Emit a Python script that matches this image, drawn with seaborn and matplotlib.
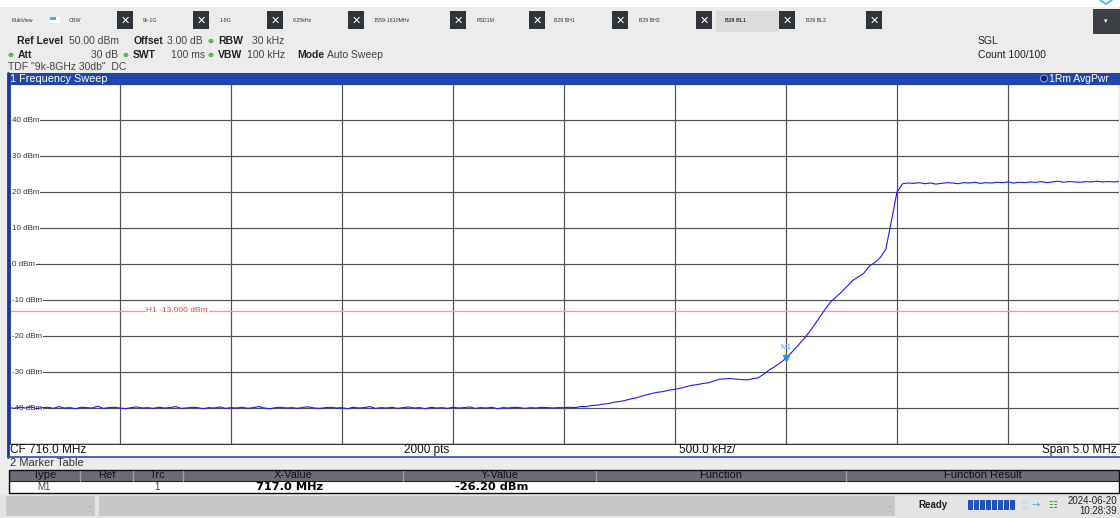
import numpy as np
import pandas as pd
import matplotlib
matplotlib.use("Agg")
import matplotlib.pyplot as plt
from matplotlib.patches import Rectangle, Ellipse
from matplotlib.lines import Line2D
import seaborn as sns

sns.set_theme(style="white")
plt.rcParams["font.family"] = ["Liberation Sans", "DejaVu Sans"]

# ---- sweep settings ----
CENTER_MHZ = 716.0
SPAN_MHZ = 5.0
REF_LEVEL_DBM = 50.0
DB_PER_DIV = 10.0
LIMIT_H1_DBM = -13.0
MARKER_FREQ_MHZ = 717.0
MARKER_LEVEL_DBM = -26.20

# ---- trace 1 (RMS detector, average power), dBm ----
trace_noise_floor = [
    -39.9, -40.1, -39.8, -40.0, -39.7, -40.2, -39.9, -39.8, -40.1, -39.6,
    -40.0, -39.9, -40.2, -39.8, -39.9, -40.0, -39.5, -40.1, -39.9, -39.8,
    -40.0, -40.2, -39.9, -39.7, -40.0, -39.9, -40.1, -39.8, -40.0, -39.9,
    -39.6, -40.1, -40.0, -39.8, -39.9, -40.2, -39.9, -40.0, -39.7, -40.1,
    -39.9, -40.0, -39.8, -40.1, -39.9, -39.6, -40.0, -40.2, -39.9, -39.8,
    -40.0, -39.9, -40.1, -39.8, -39.7, -40.0, -40.1, -39.9, -39.8, -40.0,
    -39.9, -40.2, -39.8, -40.0, -39.9, -39.6, -40.1, -39.9, -40.0, -39.8,
    -40.1, -39.9, -39.7, -40.0, -39.9, -40.2, -39.8, -40.0, -39.9, -40.1,
    -39.8, -40.0, -39.9, -39.7, -40.1, -39.9, -40.0, -39.8, -40.2, -39.9,
    -40.0, -39.8, -39.9, -40.1, -39.9, -40.0, -39.8, -39.9, -40.0, -39.9,
]
trace_band_edge = [
    -39.9, -39.8, -39.9, -39.6, -39.6, -39.3, -39.2, -38.9, -38.8, -38.4,
    -38.2, -37.9, -37.5, -37.2, -36.7, -36.3, -35.9, -35.6, -35.4, -35.0,
    -34.8, -34.5, -34.1, -33.7, -33.5, -33.2, -33.0, -32.5, -32.0, -31.9,
    -31.8, -32.0, -32.1, -32.2, -31.9, -31.6, -30.6, -29.4, -28.5, -27.4,
    -26.2, -24.6, -22.9, -21.2, -19.3, -17.2, -14.9, -12.7, -10.6, -9.2,
    -7.8, -6.2, -4.6, -3.6, -2.6, -0.6, 0.4, 1.8, 4.2, 12.0,
    20.0, 22.3, 22.5,
]
trace_in_band = [
    22.4, 22.6, 22.3, 22.5, 22.2, 22.4, 22.6, 22.5, 22.3, 22.6,
    22.5, 22.7, 22.4, 22.6, 22.5, 22.7, 22.6, 22.8, 22.5, 22.7,
    22.6, 22.8, 22.7, 22.9, 22.6, 22.8, 23.0, 22.7, 22.9, 22.8,
    22.7, 22.9, 22.8, 23.0, 22.8, 22.9, 22.8, 22.9,
]

# ---- y-axis labels, tabs and marker table ----
level_ticks = [40, 30, 20, 10, 0, -10, -20, -30, -40]
table_columns = ["Type", "Ref", "Trc", "X-Value", "Y-Value", "Function", "Function Result"]
tab_names = ["9k-1G", "1-8G", "6.25kHz", "1559-1610MHz", "PSD1M",
             "B29 BH1", "B29 BH2", "B29 BL1", "B29 BL2"]

levels = trace_noise_floor + trace_band_edge + trace_in_band
f_start = CENTER_MHZ - SPAN_MHZ / 2
f_stop = CENTER_MHZ + SPAN_MHZ / 2
sweep = pd.DataFrame({
    "freq": np.linspace(f_start, f_stop, len(levels)),
    "level": levels,
})

W, H = 1120, 518
BG = "#ececec"
fig = plt.figure(figsize=(W / 100, H / 100), dpi=100, facecolor=BG)


def fx(x):
    return x / W


def fy(y):
    return 1 - y / H


def rect(x0, y0, x1, y1, fc, ec="none", lw=0, z=1):
    fig.add_artist(Rectangle((fx(x0), fy(y1)), fx(x1) - fx(x0), fy(y0) - fy(y1),
                             transform=fig.transFigure, facecolor=fc,
                             edgecolor=ec, linewidth=lw, zorder=z))


def hline(x0, x1, y, color, lw=1, z=3):
    fig.add_artist(Line2D([fx(x0), fx(x1)], [fy(y), fy(y)], transform=fig.transFigure,
                          color=color, lw=lw, zorder=z))


def vline(x, y0, y1, color, lw=1, z=3):
    fig.add_artist(Line2D([fx(x), fx(x)], [fy(y0), fy(y1)], transform=fig.transFigure,
                          color=color, lw=lw, zorder=z))


def txt(x, y, s, size=7.5, color="#222222", ha="left", weight="normal", z=5, **kw):
    fig.text(fx(x), fy(y), s, fontsize=size, color=color, ha=ha, va="center",
             fontweight=weight, zorder=z, **kw)


def dot(x, y, color="#5cb85c"):
    fig.add_artist(Ellipse((fx(x), fy(y)), 5 / W, 4.5 / H, transform=fig.transFigure,
                           facecolor=color, edgecolor="none", zorder=5))


# ---- top toolbar ----
rect(0, 0, W, 7, "white")
txt(12, 20, "MultiView", size=3.6, color="#333333")
rect(50, 17, 56, 20, "#4aa8e8")
rect(56, 17, 60, 20, "#ffffff")
rect(50, 20, 60, 23, "#ffffff")
txt(69, 20, "OBW", size=3.8, color="#333333")
x_boxes = [117, 193, 267, 348, 450, 529, 612, 696, 779, 866]
tab_text_x = [143, 220, 293, 374, 477, 554, 639, 725, 806]
rect(716, 11, 779, 32, "#dcdcdc")
for xb in x_boxes:
    rect(xb, 11, xb + 16, 29, "#30353b", z=2)
    txt(xb + 8, 20.5, "\u2715", size=8, color="white", ha="center", weight="bold",
        family=["DejaVu Sans"])
for xt, name in zip(tab_text_x, tab_names):
    txt(xt, 20, name, size=3.8, color="#333333",
        weight="bold" if name == "B29 BL1" else "normal")
rect(1093, 9, W, 34, "#3c4046", z=2)
txt(1106, 21, "\u25BE", size=5, color="white", ha="center", family=["DejaVu Sans"])
fig.add_artist(Line2D([fx(1100), fx(1106), fx(1112)], [fy(0), fy(4), fy(0)],
                      transform=fig.transFigure, color="#40b0e0", lw=1.2, zorder=5))

# ---- instrument settings ----
txt(17, 41, "Ref Level", weight="bold")
txt(69, 41, "50.00 dBm", color="#444444")
txt(134, 41, "Offset", weight="bold")
txt(167, 41, "3.00 dB", color="#444444")
dot(211, 41)
txt(218, 41, "RBW", weight="bold")
txt(252, 41, "30 kHz", color="#444444")
dot(11, 55)
txt(18, 55, "Att", weight="bold")
txt(118, 55, "30 dB", color="#444444", ha="right")
dot(126, 55)
txt(133, 55, "SWT", weight="bold")
txt(171, 55, "100 ms", color="#444444")
dot(211, 55)
txt(218, 55, "VBW", weight="bold")
txt(247, 55, "100 kHz", color="#444444")
txt(297, 55, "Mode", weight="bold")
txt(327, 55, "Auto Sweep", color="#444444")
txt(8, 67, 'TDF "9k-8GHz 30db"  DC', color="#444444")
txt(978, 41, "SGL", color="#222222")
txt(978, 55, "Count 100/100", color="#222222")

# ---- window title bar ----
BLUE = "#2146a9"
rect(8, 73, W, 84.5, BLUE)
txt(10, 78.5, "1 Frequency Sweep", size=7.8, color="white")
fig.add_artist(Ellipse((fx(1044), fy(78.5)), 7 / W, 7 / H, transform=fig.transFigure,
                       facecolor="#101c60", edgecolor="#7f9fff", lw=0.8, zorder=5))
txt(1049, 78.5, "1Rm AvgPwr", size=7.5, color="white")

# ---- sweep diagram ----
ax = fig.add_axes([fx(9), fy(444), (1119 - 9) / W, 360 / H])
ax.set_facecolor("white")
sns.lineplot(data=sweep, x="freq", y="level", ax=ax, color="#1a1aff", lw=0.8,
             estimator=None, sort=False, zorder=4)
ax.set_xlim(f_start, f_stop)
ax.set_ylim(REF_LEVEL_DBM - 10 * DB_PER_DIV, REF_LEVEL_DBM)
ax.set_xticks(np.arange(f_start, f_stop + 1e-6, SPAN_MHZ / 10))
ax.set_yticks(np.arange(REF_LEVEL_DBM - 10 * DB_PER_DIV, REF_LEVEL_DBM + 1e-6, DB_PER_DIV))
ax.grid(True, color="#505050", lw=0.85, zorder=1)
ax.set_axisbelow(True)
ax.tick_params(length=0, labelbottom=False, labelleft=False)
ax.set_xlabel("")
ax.set_ylabel("")
for side in ("top", "right"):
    ax.spines[side].set_visible(False)
ax.spines["left"].set_color("#1b3a9a")
ax.spines["left"].set_linewidth(2)
ax.spines["bottom"].set_color("#333333")
ax.spines["bottom"].set_linewidth(1)

for v in level_ticks:
    ax.text(0.0027, v, f"{v} dBm", transform=ax.get_yaxis_transform(), fontsize=5.8,
            color="#333333", ha="left", va="center", zorder=3,
            bbox=dict(facecolor="white", edgecolor="none", pad=0.6))

ax.axhline(LIMIT_H1_DBM, color="#ff9090", lw=0.9, zorder=2)
ax.text(0.1515, LIMIT_H1_DBM, f"H1 {LIMIT_H1_DBM:.3f} dBm",
        transform=ax.get_yaxis_transform(), fontsize=6, color="#f04040",
        ha="center", va="center", zorder=3,
        bbox=dict(facecolor="white", edgecolor="none", pad=0.4))

ax.plot([MARKER_FREQ_MHZ], [MARKER_LEVEL_DBM], marker="v", ms=4, color="#2a90e0",
        ls="none", zorder=5)
ax.annotate("M1", (MARKER_FREQ_MHZ, MARKER_LEVEL_DBM), xytext=(0, 8),
            textcoords="offset points", ha="center", va="center", fontsize=5.8,
            color="#3aa0e0", zorder=5)

# ---- diagram footer ----
rect(8, 444.5, W, 456, "white")
vline(8, 73, 457, "#1b3a9a", lw=2)
hline(8, W, 456.5, "#2a4fb8", lw=1.2)
txt(10, 450, f"CF {CENTER_MHZ:.1f} MHz", size=8.5, color="#111111")
txt(427, 450, "2000 pts", size=8.5, color="#111111", ha="center")
txt(707, 450, f"{SPAN_MHZ / 10 * 1000:.1f} kHz/", size=8.5, color="#111111", ha="center")
txt(1117, 450, f"Span {SPAN_MHZ:.1f} MHz", size=8.5, color="#111111", ha="right")

# ---- marker table ----
txt(10, 463.5, "2 Marker Table", size=8, color="#333333")
rect(9, 470, 1119, 481, "#6b6b7a", z=2)
rect(9, 481, 1119, 492.5, "white", z=2)
rect(9, 470, 1119, 492.5, "none", ec="#111111", lw=1, z=3)
hline(9, 1119, 481, "#222222", lw=0.8)
col_edges = [9, 80, 133, 183, 403, 596, 846, 1119]
for xe in col_edges[1:-1]:
    vline(xe, 470.5, 480.5, "#9a9aa8", lw=1)
for (a, b), name in zip(zip(col_edges[:-1], col_edges[1:]), table_columns):
    txt((a + b) / 2, 475.5, name, size=8, color="#111111", ha="center")
txt(44, 487, "M1", size=7, color="#444444", ha="center")
txt(157, 487, "1", size=7, color="#444444", ha="center")
txt(290, 487, f"{MARKER_FREQ_MHZ:.1f} MHz", size=8.2, color="black", ha="center",
    weight="bold", family=["DejaVu Sans"])
txt(492, 487, f"{MARKER_LEVEL_DBM:.2f} dBm", size=8.2, color="black", ha="center",
    weight="bold", family=["DejaVu Sans"])

# ---- status bar ----
rect(0, 494, W, H, "#e4e4e4")
rect(6, 496, 95, 516, "#c8c8c8")
rect(99, 496, 895, 516, "#c8c8c8")
txt(89, 507, "-", size=5, color="#888888")
txt(889, 507, "-", size=5, color="#888888")
txt(918, 505.5, "Ready", size=7, color="#222222", weight="bold")
for i in range(8):
    rect(968 + i * 6, 500, 968 + i * 6 + 5, 510, "#1f4fc0")
txt(1022, 502, "EXT", size=3.5, color="#c0d0e0")
txt(1022, 508, "REF", size=3.5, color="#c0d0e0")
txt(1031, 505, "\u2192", size=7, color="#30b0e0", family=["DejaVu Sans"])
txt(1053, 505, "\u2637", size=7, color="#30a030", ha="center", family=["DejaVu Sans"])
txt(1117, 500.5, "2024-06-20", size=7, color="#222222", ha="right")
txt(1117, 510.5, "10:28:39", size=7, color="#222222", ha="right")

fig.savefig("out.png", dpi=100, facecolor=BG)
